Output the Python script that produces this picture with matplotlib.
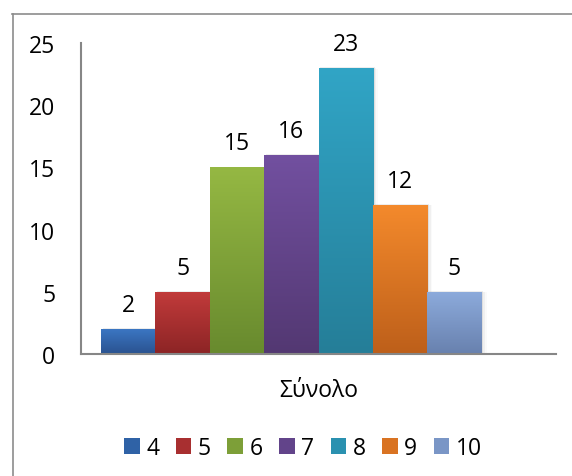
import numpy as np
import matplotlib
matplotlib.use("Agg")
import matplotlib.pyplot as plt
from matplotlib.colors import LinearSegmentedColormap
from matplotlib.patches import Patch
from matplotlib.lines import Line2D

plt.rcParams['font.family'] = ['Open Sans', 'DejaVu Sans']

# grades and how many students got each one
grades = ['4', '5', '6', '7', '8', '9', '10']
counts = [2, 5, 15, 16, 23, 12, 5]
category = 'Σύνολο'
y_ticks = [0, 5, 10, 15, 20, 25]

# (top, bottom) colours of each bar's gradient
top_colors = ['#3b76c2', '#c23b3b', '#95b843', '#7250a0', '#31a5c6', '#f48a2c', '#8dabdc']
bottom_colors = ['#2a5290', '#8c2425', '#688a2e', '#533872', '#257e98', '#bd5f1a', '#6881ae']
mid_colors = ['#2f62a6', '#a82f30', '#7d9f38', '#62448a', '#2a91b0', '#d97322', '#7a96c6']

FS = 16.5
W, H = 572, 477
fig = plt.figure(figsize=(W / 100, H / 100), dpi=100)
ax = fig.add_axes([81 / W, 122 / H, 475 / W, 311 / H])

x = np.arange(len(counts))
bars = ax.bar(x, counts, width=1.0, align='edge', facecolor='none', edgecolor='none', zorder=3)

grad = np.linspace(1, 0, 256).reshape(-1, 1)
for bar, c_top, c_bot in zip(bars, top_colors, bottom_colors):
    cmap = LinearSegmentedColormap.from_list('g', [c_bot, c_top])
    x0, w, h = bar.get_x(), bar.get_width(), bar.get_height()
    # soft shadow on the right
    for k, a in enumerate([0.07, 0.04, 0.02]):
        ax.add_patch(plt.Rectangle((x0 + 0.03 + 0.03 * k, 0), w, h + 0.05 - 0.05 * k,
                                   facecolor='#000000', alpha=a, edgecolor='none', zorder=2))
    im = ax.imshow(grad, extent=[x0, x0 + w, 0, h], cmap=cmap, aspect='auto',
                   interpolation='bilinear', zorder=3)
    im.set_clip_path(bar)
    ax.annotate(str(int(h)), (x0 + w / 2, h), xytext=(0, 13), textcoords='offset points',
                ha='center', va='baseline', fontsize=FS, color='#000000')

ax.set_xlim(-0.368, 8.368)
ax.set_ylim(0, 25)
ax.set_yticks(y_ticks)
ax.set_yticklabels([str(t) for t in y_ticks], fontsize=FS)
ax.tick_params(axis='y', length=0, pad=18.5)
ax.set_xticks([4])
ax.set_xticklabels([category], fontsize=FS)
ax.tick_params(axis='x', length=0, pad=17)

for side in ['top', 'right']:
    ax.spines[side].set_visible(False)
for side in ['left', 'bottom']:
    ax.spines[side].set_color('#868686')
    ax.spines[side].set_linewidth(1.5)
    ax.spines[side].set_zorder(4)

handles = [Patch(facecolor=c, edgecolor='none') for c in mid_colors]
fig.legend(handles, grades, loc='center', bbox_to_anchor=(303 / W, 1 - 449 / H),
           ncol=len(grades), frameon=False, fontsize=FS,
           handlelength=0.68, handleheight=0.68, handletextpad=0.28,
           columnspacing=0.72, borderaxespad=0)

# chart area border (runs off the right and bottom edges)
fig.add_artist(Line2D([12 / W, 1.0], [1 - 14.5 / H, 1 - 14.5 / H], transform=fig.transFigure,
                      color='#8c8c8c', lw=1.2))
fig.add_artist(Line2D([12.5 / W, 12.5 / W], [0, 1 - 14.5 / H], transform=fig.transFigure,
                      color='#8c8c8c', lw=1.2))

fig.savefig('out.png', dpi=100)
